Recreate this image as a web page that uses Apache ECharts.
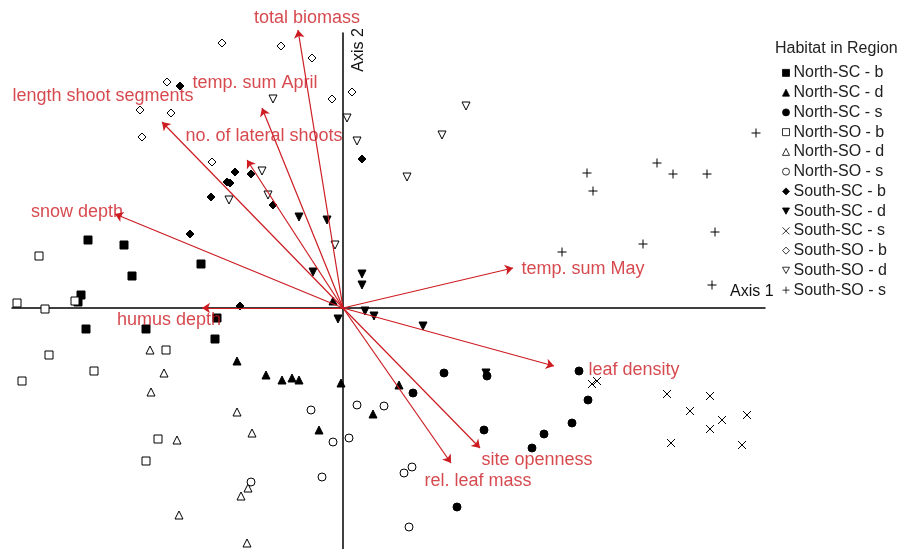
<!DOCTYPE html>
<html>
<head>
<meta charset="utf-8">
<script src="https://cdn.jsdelivr.net/npm/echarts@6/dist/echarts.min.js"></script>
<style>html,body{margin:0;padding:0;background:#fff}#c{width:899px;height:549px}</style>
</head>
<body>
<div id="c"></div>
<script>
// ---- data (ordination scores, Axis 1 / Axis 2) ----
const northSCb = [[-2.55,0.68],[-2.19,0.63],[-2.11,0.32],[-2.62,0.13],[-2.65,0.06],[-2.57,-0.21],[-1.97,-0.21],[-1.42,0.44],[-1.28,-0.31],[-1.26,-0.10]];
const northSCd = [[-1.06,-0.53],[-0.77,-0.67],[-0.61,-0.72],[-0.51,-0.70],[-0.44,-0.72],[-0.02,-0.75],[-0.24,-1.22],[0.56,-0.77],[0.30,-1.06],[-0.10,0.07]];
const northSCs = [[1.01,-0.65],[1.44,-0.68],[2.36,-0.63],[0.70,-0.85],[2.45,-0.92],[2.29,-1.15],[2.01,-1.26],[1.89,-1.40],[1.41,-1.22],[1.14,-1.99]];
const northSOb = [[-3.04,0.52],[-3.26,0.05],[-2.98,-0.01],[-2.68,0.07],[-2.94,-0.47],[-2.49,-0.63],[-3.21,-0.73],[-1.77,-0.42],[-1.85,-1.31],[-1.97,-1.53]];
const northSOd = [[-1.93,-0.42],[-1.79,-0.65],[-1.92,-0.84],[-1.06,-1.04],[-0.91,-1.25],[-1.66,-1.32],[-0.95,-1.80],[-1.02,-1.88],[-1.64,-2.07],[-0.96,-2.35]];
const northSOs = [[-0.32,-1.02],[-0.10,-1.34],[-0.21,-1.69],[-0.92,-1.74],[0.06,-1.30],[0.14,-0.97],[0.41,-0.98],[0.61,-1.65],[0.69,-1.59],[0.66,-2.19]];
const southSCb = [[-1.63,2.22],[0.19,1.49],[-1.08,1.36],[-0.92,1.34],[-1.16,1.26],[-1.13,1.25],[-1.32,1.11],[-0.70,1.03],[-1.53,0.74],[-1.03,0.02]];
const southSCd = [[-0.44,0.91],[-0.16,0.88],[-0.30,0.36],[-0.05,-0.11],[0.19,0.34],[0.19,0.23],[0.22,-0.03],[0.31,-0.08],[0.80,-0.18],[1.43,-0.65]];
const southSCs = [[2.49,-0.76],[2.54,-0.73],[3.24,-0.86],[3.67,-0.88],[3.47,-1.03],[3.79,-1.12],[3.67,-1.21],[4.04,-1.07],[3.28,-1.35],[3.99,-1.37]];
const southSOb = [[-1.21,2.65],[-0.62,2.62],[-0.31,2.50],[-1.76,2.26],[-0.11,2.09],[0.09,2.16],[-2.03,1.98],[-1.72,1.95],[-2.01,1.71],[-1.31,1.46]];
const southSOd = [[-0.70,2.09],[1.23,2.02],[0.04,1.90],[0.99,1.73],[0.14,1.67],[0.64,1.31],[-0.81,1.37],[-1.14,1.08],[-0.75,1.13],[-0.08,0.63]];
const southSOs = [[4.13,1.75],[3.14,1.45],[2.44,1.35],[3.30,1.34],[3.64,1.34],[2.50,1.17],[3.72,0.76],[3.00,0.64],[2.19,0.56],[3.69,0.23]];

const groupNames = ['North-SC - b','North-SC - d','North-SC - s','North-SO - b','North-SO - d','North-SO - s',
                    'South-SC - b','South-SC - d','South-SC - s','South-SO - b','South-SO - d','South-SO - s'];
const groupData = [northSCb,northSCd,northSCs,northSOb,northSOd,northSOs,southSCb,southSCd,southSCs,southSOb,southSOd,southSOs];

// environmental vectors (arrow tips)
const vectorNames = ['total biomass','temp. sum April','length shoot segments','no. of lateral shoots','snow depth',
                     'humus depth','temp. sum May','leaf density','site openness','rel. leaf mass'];
const vectorX = [-0.45,-0.81,-1.81,-0.96,-2.28,-1.41,1.70,2.11,1.37,1.08];
const vectorY = [2.78,2.00,1.86,1.48,0.94,0.00,0.40,-0.58,-1.40,-1.55];

// ---- styling ----
const RED = '#cc1c22';
const FONT = 'Liberation Sans, Arial, sans-serif';
const TRI_DOWN = 'path://M0,0L10,0L5,9Z';
const CROSS_X = 'path://M0,0L10,10M10,0L0,10';
const PLUS = 'path://M5,0L5,10M0,5L10,5';
const groupStyle = [
  {symbol:'rect', fill:'#000', size:8},
  {symbol:'triangle', fill:'#000', size:8},
  {symbol:'circle', fill:'#000', size:8},
  {symbol:'rect', fill:'#fff', size:8},
  {symbol:'triangle', fill:'#fff', size:8},
  {symbol:'circle', fill:'#fff', size:8},
  {symbol:'diamond', fill:'#000', size:8},
  {symbol:TRI_DOWN, fill:'#000', size:8},
  {symbol:CROSS_X, fill:'none', size:8},
  {symbol:'diamond', fill:'#fff', size:8},
  {symbol:TRI_DOWN, fill:'#fff', size:8},
  {symbol:PLUS, fill:'none', size:9}
];
const labelOffsets = [[9,-12],[-7,-25],[-59,-26],[17,-24],[-38,-2],[-33,12],[70,1],[80,4],[57,12],[27,18]];

const series = groupNames.map((n,i)=>({
  type:'scatter', name:n, data:groupData[i],
  symbol:groupStyle[i].symbol, symbolSize:groupStyle[i].size,
  itemStyle:{color:groupStyle[i].fill, borderColor:'#000', borderWidth:1, opacity:1},
  z:3, silent:true
}));

series.push({
  type:'lines', coordinateSystem:'cartesian2d', clip:false, silent:true, z:4,
  symbol:['none','arrow'], symbolSize:8,
  lineStyle:{color:RED, width:1.2, opacity:1},
  data: vectorNames.map((n,i)=>({coords:[[0,0],[vectorX[i],vectorY[i]]]}))
});
series.push({
  type:'scatter', name:'vectorLabels', clip:false, silent:true, z:5, symbolSize:0,
  data: vectorNames.map((n,i)=>({value:[vectorX[i],vectorY[i]], name:n,
     label:{offset:labelOffsets[i]}})),
  label:{show:true, position:'inside', formatter:p=>p.name, color:RED,
         fontSize:18, fontFamily:FONT, align:'center', verticalAlign:'middle'},
  itemStyle:{color:'none'}
});

const chart = echarts.init(document.getElementById('c'), null, {renderer:'canvas'});
chart.setOption({
  animation:false,
  backgroundColor:'#fff',
  title:{text:'Habitat in Region', left:775, top:41, padding:0,
         textStyle:{fontSize:16, fontWeight:'normal', color:'#222', fontFamily:FONT}},
  legend:{orient:'vertical', left:780, top:63, padding:0, itemWidth:7, itemHeight:7, itemGap:0,
          data:groupNames, itemStyle:{borderWidth:0.8},
          textStyle:{fontSize:16, color:'#222', lineHeight:19.75, padding:[0,0,0,-1], fontFamily:FONT}},
  grid:{left:12, right:134, top:33, bottom:0},
  xAxis:{type:'value', min:-3.31, max:4.22,
         axisLine:{onZero:true, lineStyle:{color:'#000', width:1.5}},
         axisTick:{show:false}, axisLabel:{show:false}, splitLine:{show:false}},
  yAxis:{type:'value', min:-2.41, max:2.75,
         axisLine:{onZero:true, lineStyle:{color:'#000', width:1.5}},
         axisTick:{show:false}, axisLabel:{show:false}, splitLine:{show:false}},
  graphic:[
    {type:'text', x:730, y:292, style:{text:'Axis 1', fill:'#111', font:'16px "Liberation Sans", Arial, sans-serif', align:'left', verticalAlign:'middle'}},
    {type:'text', x:359, y:50, rotation:Math.PI/2, style:{text:'Axis 2', fill:'#111', font:'16px "Liberation Sans", Arial, sans-serif', align:'center', verticalAlign:'middle'}}
  ],
  series:series
});
</script>
</body>
</html>
